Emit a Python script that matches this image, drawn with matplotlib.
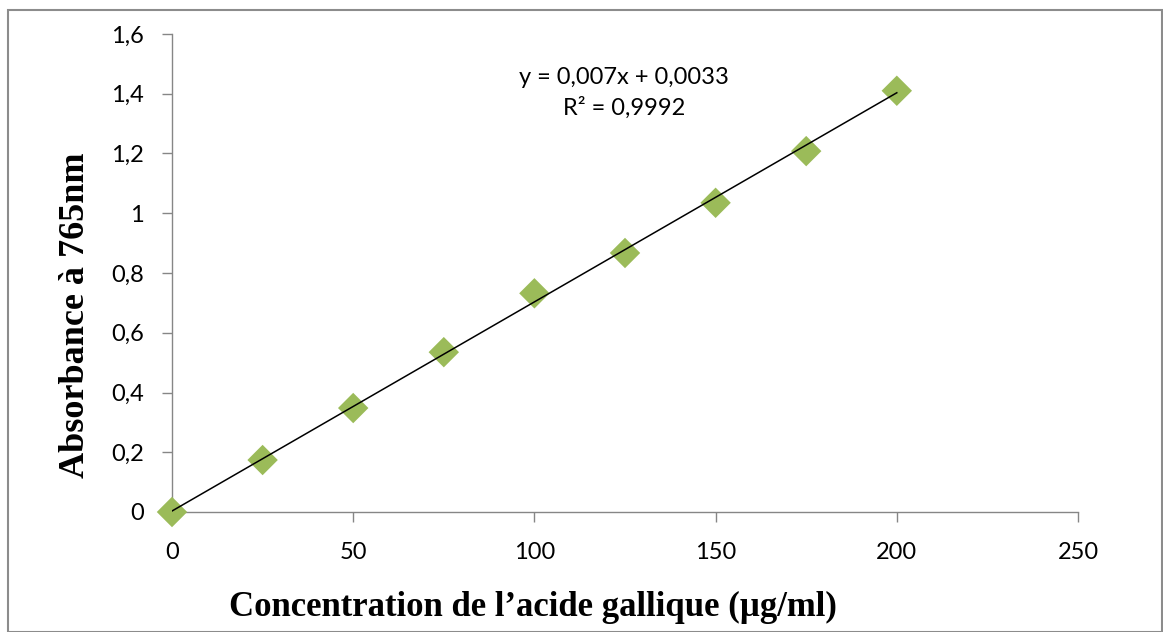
import matplotlib
matplotlib.use("Agg")
import matplotlib.pyplot as plt
from matplotlib.ticker import FuncFormatter, MultipleLocator
from matplotlib.patches import Rectangle
import matplotlib.patheffects as pe

concentration = [0, 25, 50, 75, 100, 125, 150, 175, 200]
absorbance = [0.0, 0.174, 0.348, 0.535, 0.732, 0.867, 1.035, 1.208, 1.410]
slope = 0.007
intercept = 0.0033
eq_text = "y = 0,007x + 0,0033"
r2_text = "R² = 0,9992"

fig = plt.figure(figsize=(11.63, 6.32), dpi=100)
ax = fig.add_axes([172/1163, 1-512/632, (1078-172)/1163, (512-34)/632])

grey = "#868686"
ax.scatter(concentration, absorbance, marker="D", s=240, color="#9BBB59",
           edgecolors="none", zorder=3,
           path_effects=[pe.SimpleLineShadow(offset=(1.5, -1.5), shadow_color="#777777", alpha=0.35), pe.Normal()])
xs = [min(concentration), max(concentration)]
ax.plot(xs, [slope*x + intercept for x in xs], color="black", lw=1.1, zorder=4)

ax.set_xlim(0, 250)
ax.set_ylim(0, 1.6)
ax.xaxis.set_major_locator(MultipleLocator(50))
ax.yaxis.set_major_locator(MultipleLocator(0.2))
ax.yaxis.set_major_formatter(FuncFormatter(lambda v, p: ("%g" % round(v, 1)).replace(".", ",")))
for s in ["top", "right"]:
    ax.spines[s].set_visible(False)
for s in ["left", "bottom"]:
    ax.spines[s].set_color(grey)
    ax.spines[s].set_linewidth(1.0)
ax.tick_params(axis="both", direction="out", length=7, width=1.0, color=grey,
               labelsize=17)
for lab in ax.get_xticklabels() + ax.get_yticklabels():
    lab.set_fontfamily("Lato")
ax.tick_params(axis="x", pad=14.5)
ax.tick_params(axis="y", pad=13)
for c in ax.collections:
    c.set_clip_on(False)

ax.text(124.7, 1.455, eq_text, ha="center", va="center", fontsize=17, family="Lato")
ax.text(124.7, 1.353, r2_text, ha="center", va="center", fontsize=17, family="Lato")

fig.text(533/1163, 1-607/632, "Concentration de l’acide gallique (µg/ml)", fontsize=25,
         fontweight="bold", family="Liberation Serif", ha="center", va="center")
fig.text(76/1163, 1-315/632, "Absorbance à 765nm", fontsize=26, rotation=90,
         fontweight="bold", family="Liberation Serif", ha="center", va="center")

fig.patches.append(Rectangle((8/1163, 0), 1 - 8/1163 - 0.0005, 1 - 10/632, transform=fig.transFigure,
                             fill=False, edgecolor="#8c8c8c", lw=1.5))

fig.savefig("out.png", dpi=100)
